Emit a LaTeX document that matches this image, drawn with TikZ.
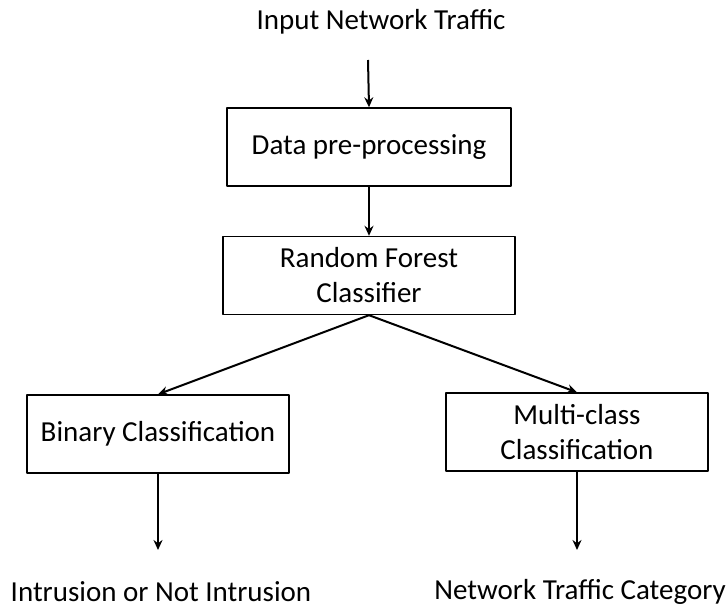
\documentclass[tikz,border=0pt]{standalone}
\usepackage{fontspec}
\setmainfont{Carlito}
\usetikzlibrary{arrows.meta}
\begin{document}
\begin{tikzpicture}[x=0.5pt,y=-0.5pt,>={Stealth[length=5pt,width=4.5pt]}, font=\fontsize{14.5}{17.5}\selectfont, line join=round]
	\tikzset{blk/.style={draw,line width=0.7pt,inner sep=0pt,align=center,minimum height=39pt},
		arr/.style={->,line width=1pt}}
	\useasboundingbox (0,0) rectangle (727,609);
	% boxes
	\node[blk,minimum width=142pt] (pre) at (369,147) {Data pre-processing};
	\node[blk,minimum width=146pt] (rf) at (369,275.5) {Random Forest\\Classifier};
	\node[blk,minimum width=131pt] (bin) at (158,434) {Binary Classification};
	\node[blk,minimum width=131pt] (mul) at (577,432) {Multi-class\\Classification};
	% input / outputs
	\node (inp) at (381,22) {Input Network Traffic};
	\node (out1) at (161,592) {Intrusion or Not Intrusion};
	\node (out2) at (580,592) {Network Traffic Category};
	\coordinate (a0) at (368,60);
	\coordinate (b1) at (158,550);
	\coordinate (b2) at (577,550);
	% arrows
	\draw[arr] (a0) -- (pre.north);
	\draw[arr] (pre.south) -- (rf.north);
	\draw[arr] (rf.south) -- (bin.north);
	\draw[arr] (rf.south) -- (mul.north);
	\draw[arr] (bin.south) -- (b1);
	\draw[arr] (mul.south) -- (b2);
\end{tikzpicture}
\end{document}
